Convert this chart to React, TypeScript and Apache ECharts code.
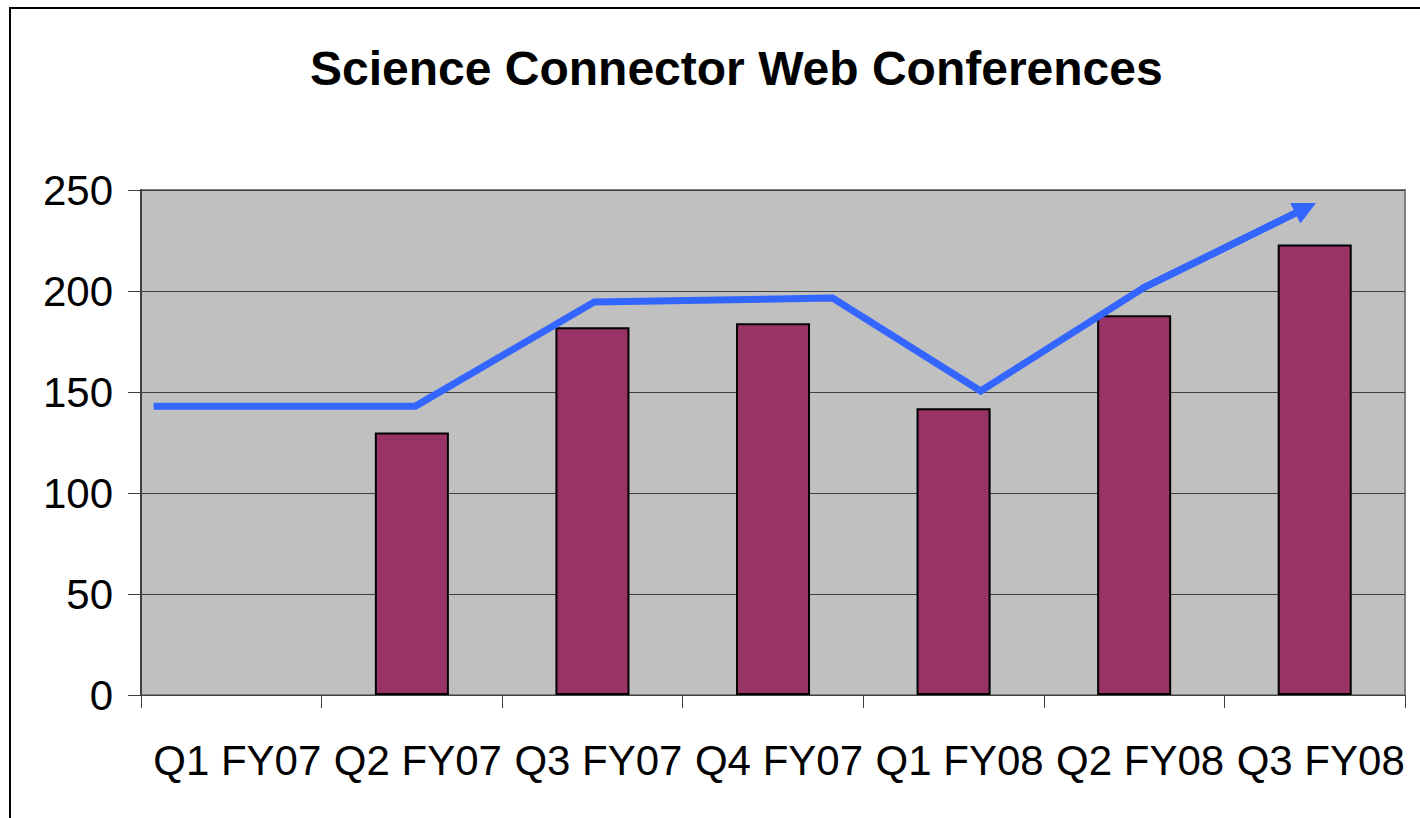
import React, { useEffect, useRef } from "react";
import * as echarts from "echarts";

const titleText = "Science Connector Web Conferences";
const categories = ["Q1 FY07", "Q2 FY07", "Q3 FY07", "Q4 FY07", "Q1 FY08", "Q2 FY08", "Q3 FY08"];
const conferences: (number | null)[] = [null, 130, 182, 184, 142, 188, 223];
// hand-drawn trend arrow (category position, value)
const trendX = [-0.43, 1.02, 2.01, 3.33, 4.15, 5.05, 5.95];
const trendY = [143, 143, 194.6, 196.5, 150.5, 201.5, 241];
const yMin = 0;
const yMax = 250;
const yStep = 50;

export default function App() {
  const ref = useRef<HTMLDivElement>(null);
  useEffect(() => {
    if (!ref.current) return;
    const chart = echarts.init(ref.current, null, { renderer: "svg" });
    const font = "'Liberation Sans', Arial, sans-serif";
    const trend = trendX.map((x, i) => [x, trendY[i]]);
    const last = trend.length - 1;
    chart.setOption({
      animation: false,
      backgroundColor: "#ffffff",
      title: {
        text: titleText,
        left: 310,
        top: 44,
        padding: 0,
        textStyle: { fontFamily: font, fontSize: 48, fontWeight: "bold", color: "#000" },
      },
      graphic: [
        {
          type: "rect",
          shape: { x: 10, y: 8, width: 1440, height: 840 },
          style: { fill: "none", stroke: "#000", lineWidth: 2 },
          silent: true,
        },
      ],
      grid: {
        left: 141,
        right: 15,
        top: 190,
        bottom: 123,
        show: true,
        backgroundColor: "#C0C0C0",
        borderColor: "#808080",
        borderWidth: 2,
      },
      xAxis: [
        {
          type: "category",
          data: categories,
          boundaryGap: true,
          axisLine: { show: true, onZero: false, lineStyle: { color: "#404040", width: 1 } },
          axisTick: { show: true, length: 13, inside: false, lineStyle: { color: "#404040" } },
          axisLabel: {
            fontFamily: font,
            fontSize: 42,
            color: "#000",
            margin: 44,
            interval: 0,
            padding: [0, 0, 0, 12],
          },
          splitLine: { show: false },
        },
        {
          type: "value",
          min: -0.5,
          max: 6.5,
          show: false,
        },
      ],
      yAxis: {
        type: "value",
        min: yMin,
        max: yMax,
        interval: yStep,
        axisLine: { show: true, onZero: false, lineStyle: { color: "#404040", width: 2 } },
        axisTick: { show: true, length: 13, lineStyle: { color: "#404040" } },
        axisLabel: { fontFamily: font, fontSize: 42, color: "#000", margin: 28 },
        splitLine: { show: true, lineStyle: { color: "#404040", width: 1 } },
      },
      series: [
        {
          type: "bar",
          data: conferences,
          barWidth: "41%",
          itemStyle: { color: "#993366", borderColor: "#000", borderWidth: 2 },
          silent: true,
        },
        {
          type: "line",
          xAxisIndex: 1,
          data: trend,
          symbol: "none",
          lineStyle: { color: "#3366FF", width: 7, cap: "butt", join: "miter" },
          silent: true,
          z: 5,
          markLine: {
            silent: true,
            symbol: ["none", "triangle"],
            symbolSize: [23, 23],
            label: { show: false },
            lineStyle: { color: "#3366FF", width: 7, type: "solid" },
            itemStyle: { color: "#3366FF" },
            emphasis: { disabled: true },
            data: [[{ coord: trend[last - 1] }, { coord: trend[last] }]],
          },
        },
      ],
    });
    return () => chart.dispose();
  }, []);
  return (
    <div
      ref={ref}
      style={{ position: "fixed", left: 0, top: 0, width: 1420, height: 818 }}
    />
  );
}
